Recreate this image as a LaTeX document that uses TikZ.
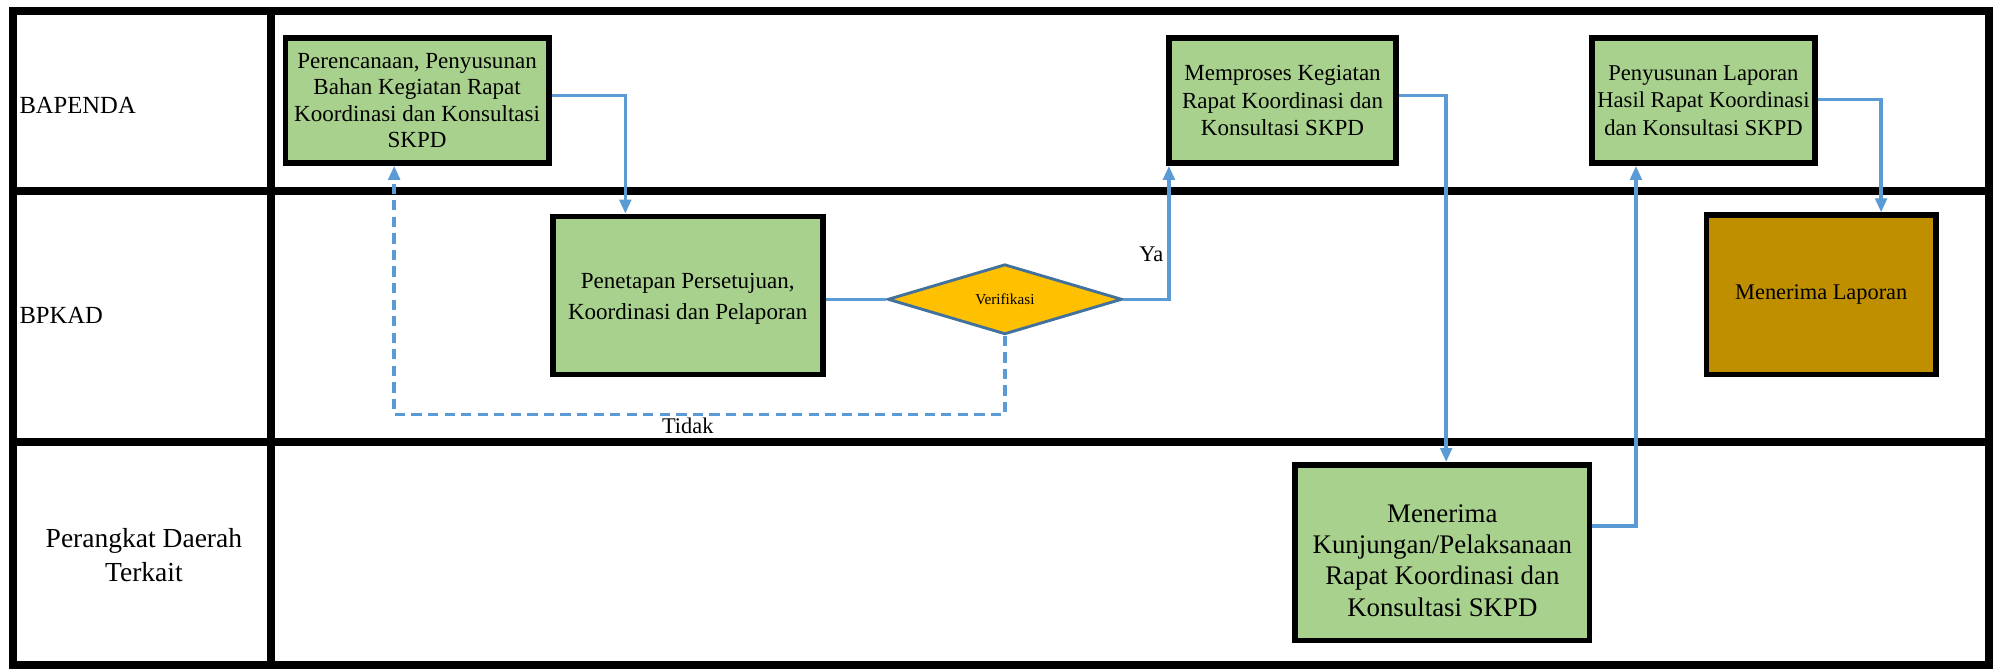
\documentclass[tikz,border=0pt]{standalone}
\usepackage{fontspec}
\setmainfont{Liberation Serif}
\usetikzlibrary{arrows.meta,shapes.geometric,calc}
\definecolor{boxgreen}{HTML}{A9D18E}
\definecolor{boxgold}{HTML}{BF8F00}
\definecolor{flowblue}{HTML}{5B9BD5}
\definecolor{diafill}{HTML}{FFC000}
\definecolor{diaborder}{HTML}{41719C}
\begin{document}
\begin{tikzpicture}[x=0.02cm,y=-0.02cm,
  lane/.style={line width=0.125cm,black},
  procbox/.style={draw=black,line width=0.088cm,fill=boxgreen,align=center,inner sep=0pt,font=\fontsize{10.3}{11.8}\selectfont},
  flowline/.style={draw=flowblue,line width=0.055cm},
  flow/.style={flowline,-{Triangle[length=0.22cm,width=0.18cm]}},
  dashflow/.style={flow,dash pattern=on 0.16cm off 0.1cm},
  lanelabel/.style={inner sep=0pt,align=center},
  lbl/.style={inner sep=0pt,font=\fontsize{10}{12}\selectfont}
]
\useasboundingbox (0,0) rectangle (1568,526);
% swimlane grid
\draw[lane] (10,9) rectangle (1562,522);
\draw[lane] (10,150) -- (1562,150);
\draw[lane] (10,347) -- (1562,347);
\draw[lane] (213,9) -- (213,522);
% lane labels
\node[lanelabel,anchor=west,font=\fontsize{11}{13}\selectfont] (l1) at (15,83) {BAPENDA};
\node[lanelabel,anchor=west,font=\fontsize{11}{13}\selectfont] (l2) at (15,248) {BPKAD};
\node[lanelabel,font=\fontsize{12.3}{15.4}\selectfont] (l3) at (113,436) {Perangkat Daerah\\Terkait};
% process boxes
\node[procbox,minimum width=4.14cm,minimum height=1.96cm] (b1) at (327.5,79)
  {Perencanaan, Penyusunan\\Bahan Kegiatan Rapat\\Koordinasi dan Konsultasi\\SKPD};
\node[procbox,minimum width=4.24cm,minimum height=2.48cm,font=\fontsize{10.3}{13.6}\selectfont] (b2) at (540,232)
  {\rule{0pt}{10pt}Penetapan Persetujuan,\\Koordinasi dan Pelaporan};
\node[diamond,draw=diaborder,line width=0.045cm,fill=diafill,inner sep=0pt,
  minimum width=3.68cm,minimum height=1.0cm,font=\fontsize{6.8}{8}\selectfont] (dia) at (789,235) {Verifikasi};
\node[procbox,minimum width=3.56cm,minimum height=1.96cm,font=\fontsize{10.3}{12.4}\selectfont] (b3) at (1007,79)
  {Memproses Kegiatan\\Rapat Koordinasi dan\\Konsultasi SKPD};
\node[procbox,minimum width=3.5cm,minimum height=1.96cm,font=\fontsize{10.1}{12.4}\selectfont] (b4) at (1337.5,79)
  {Penyusunan Laporan\\Hasil Rapat Koordinasi\\dan Konsultasi SKPD};
\node[procbox,fill=boxgold,minimum width=3.6cm,minimum height=2.5cm,font=\fontsize{10}{12}\selectfont] (b6) at (1430,231.5)
  {Menerima Laporan};
\node[procbox,minimum width=4.62cm,minimum height=2.76cm,font=\fontsize{12}{13.9}\selectfont] (b5) at (1132.5,434)
  {\rule{0pt}{15pt}Menerima\\Kunjungan/Pelaksanaan\\Rapat Koordinasi dan\\Konsultasi SKPD};
% labels
\node[lbl] (ya) at (904,200) {Ya};
\node[lbl] (tidak) at (540,334) {Tidak};
% connectors
\draw[flow] ($(b1.east)+(0,-4)$) -| ($(b2.north)+(-49,0)$);
\draw[flowline] (b2.east |- dia.west) -- (dia.west);
\draw[flow] (dia.east) -| ($(b3.south west)+(2,0)$);
\draw[dashflow] (dia.south) -- ($(dia.south)+(0,62)$) -| ($(b1.south)+(-18,0)$);
\draw[flow] ($(b3.east)+(0,-4)$) -| ($(b5.north)+(3,0)$);
\draw[flow] ($(b5.east)+(0,-21)$) -| ($(b4.south)+(-53,0)$);
\draw[flow] ($(b4.east)+(0,-1)$) -| ($(b6.north)+(47,0)$);
\end{tikzpicture}
\end{document}
